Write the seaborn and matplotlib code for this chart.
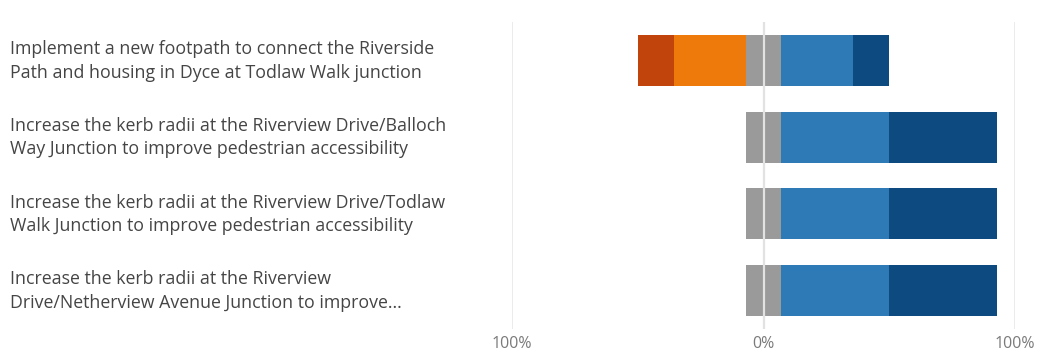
import matplotlib
matplotlib.use("Agg")
import matplotlib.pyplot as plt
import seaborn as sns
import pandas as pd

# Statements and response shares (percent of respondents)
statements = [
    "Implement a new footpath to connect the Riverside\nPath and housing in Dyce at Todlaw Walk junction",
    "Increase the kerb radii at the Riverview Drive/Balloch\nWay Junction to improve pedestrian accessibility",
    "Increase the kerb radii at the Riverview Drive/Todlaw\nWalk Junction to improve pedestrian accessibility",
    "Increase the kerb radii at the Riverview\nDrive/Netherview Avenue Junction to improve...",
]
strongly_disagree = [14.3, 0.0, 0.0, 0.0]
disagree = [28.6, 0.0, 0.0, 0.0]
neutral = [14.3, 14.3, 14.3, 14.3]
agree = [28.6, 42.9, 42.9, 42.9]
strongly_agree = [14.3, 42.9, 42.9, 42.9]

tick_values = [-100, 0, 100]
tick_labels = ["100%", "0%", "100%"]

colors = {
    "strongly_disagree": "#C0440C",
    "disagree": "#EF7A0C",
    "neutral": "#9A9A9A",
    "agree": "#2E7AB6",
    "strongly_agree": "#0C4A80",
}

sns.set_theme(style="white")
plt.rcParams["font.family"] = ["Open Sans", "DejaVu Sans"]

df = pd.DataFrame({
    "statement": statements,
    "sd": strongly_disagree,
    "d": disagree,
    "n": neutral,
    "a": agree,
    "sa": strongly_agree,
})
df["half_n"] = df["n"] / 2
# cumulative extents from the centre line, drawn outermost first
df["neg_outer"] = -(df["half_n"] + df["d"] + df["sd"])
df["neg_mid"] = -(df["half_n"] + df["d"])
df["neg_inner"] = -df["half_n"]
df["pos_outer"] = df["half_n"] + df["a"] + df["sa"]
df["pos_mid"] = df["half_n"] + df["a"]
df["pos_inner"] = df["half_n"]

W, H = 1037, 353
fig = plt.figure(figsize=(W / 100, H / 100), dpi=100)
ax = fig.add_axes([512 / W, 1 - 329 / H, (1015 - 512) / W, (329 - 22) / H])

layers = [
    ("neg_outer", colors["strongly_disagree"]),
    ("neg_mid", colors["disagree"]),
    ("neg_inner", colors["neutral"]),
    ("pos_outer", colors["strongly_agree"]),
    ("pos_mid", colors["agree"]),
    ("pos_inner", colors["neutral"]),
]
for col, c in layers:
    sns.barplot(data=df, x=col, y="statement", orient="h", color=c,
                width=0.665, saturation=1, linewidth=0, edgecolor="none",
                ax=ax, zorder=2)

for v in tick_values:
    ax.axvline(v, color="#E8E8E8", lw=1.2, zorder=1)
ax.axvline(0, color="#E2E2E2", lw=1.6, zorder=3)

ax.set_xlim(-100, 100)
ax.set_ylim(3.5, -0.5)
ax.set_xticks(tick_values)
ax.set_xticklabels(tick_labels, color="#7A7A7A", fontsize=11.5)
ax.tick_params(axis="x", length=0, pad=5)
ax.set_yticks([])
ax.set_xlabel("")
ax.set_ylabel("")
for s in ax.spines.values():
    s.set_visible(False)

# statement labels, left aligned in the margin
for i, txt in enumerate(statements):
    y_px = 61 + i * 76.7
    fig.text(10 / W, 1 - y_px / H, txt, ha="left", va="center",
             fontsize=12.8, color="#454545", linespacing=1.38)

fig.savefig("out.png", dpi=100)
